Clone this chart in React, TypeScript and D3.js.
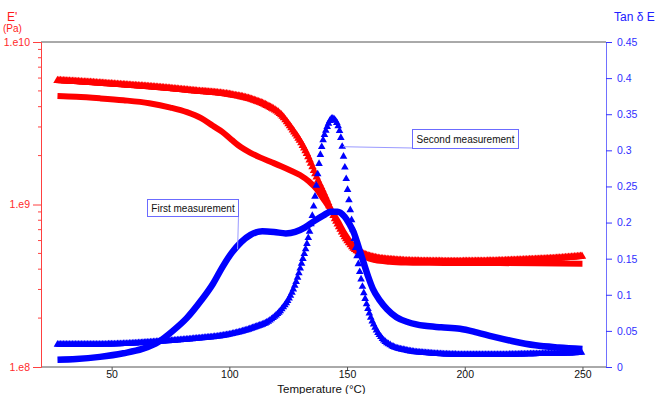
import { useEffect, useRef } from "react";
import * as d3 from "d3";

const W = 656, H = 394;
const FONT = "Liberation Sans, Arial, sans-serif";
const RED = "#ff0000";
const BLUE = "#0000ff";

// E' (Pa), first measurement (smooth band)
const e1T = [27, 35, 45, 55, 66, 75, 82, 88, 93, 97, 101, 105, 109, 113, 118, 122, 126, 130, 134, 137, 140, 143, 146, 149, 152, 155, 158, 162, 168, 175, 185, 200, 215, 230, 240, 250];
const e1V = [4.65e9, 4.6e9, 4.5e9, 4.38e9, 4.2e9, 3.95e9, 3.7e9, 3.4e9, 3.05e9, 2.8e9, 2.5e9, 2.25e9, 2.08e9, 1.95e9, 1.82e9, 1.72e9, 1.62e9, 1.52e9, 1.38e9, 1.25e9, 1.08e9, 9.3e8, 7.9e8, 6.6e8, 5.7e8, 5.1e8, 4.75e8, 4.55e8, 4.45e8, 4.4e8, 4.38e8, 4.36e8, 4.36e8, 4.35e8, 4.33e8, 4.32e8];

// E' (Pa), second measurement (triangles)
const e2T = [27, 40, 55, 70, 85, 100, 110, 116, 122, 127, 130, 133, 137, 141, 144, 147, 150, 153, 157, 162, 170, 180, 195, 210, 225, 240, 250];
const e2V = [5.85e9, 5.7e9, 5.5e9, 5.3e9, 5.05e9, 4.8e9, 4.45e9, 4.1e9, 3.6e9, 2.9e9, 2.5e9, 2.07e9, 1.5e9, 1.12e9, 8.8e8, 7.2e8, 6.1e8, 5.4e8, 5.0e8, 4.75e8, 4.6e8, 4.52e8, 4.5e8, 4.52e8, 4.6e8, 4.72e8, 4.85e8];

// tan delta, first measurement
const t1T = [27, 35, 45, 55, 63, 70, 76, 82, 88, 93, 97, 101, 105, 109, 114, 119, 124, 128, 132, 136, 140, 143, 146, 149, 151, 153, 155, 157, 159, 161, 164, 167, 171, 176, 183, 190, 198, 205, 212, 220, 230, 240, 250];
const t1V = [0.010, 0.011, 0.014, 0.019, 0.025, 0.035, 0.050, 0.068, 0.092, 0.115, 0.138, 0.158, 0.173, 0.183, 0.188, 0.187, 0.185, 0.187, 0.193, 0.202, 0.210, 0.215, 0.215, 0.208, 0.198, 0.185, 0.165, 0.145, 0.125, 0.108, 0.092, 0.080, 0.069, 0.062, 0.057, 0.055, 0.053, 0.048, 0.042, 0.036, 0.030, 0.027, 0.025];

// tan delta, second measurement (triangles)
const t2T = [27, 40, 55, 70, 85, 100, 110, 117, 122, 126, 129, 131, 133, 135, 136.5, 138, 139.5, 141.5, 143.7, 145.5, 147, 148.4, 150, 151.5, 153, 155, 157, 159.5, 162, 165, 169, 175, 185, 200, 215, 230, 245, 250];
const t2V = [0.032, 0.032, 0.033, 0.036, 0.040, 0.046, 0.055, 0.065, 0.080, 0.100, 0.125, 0.148, 0.172, 0.205, 0.240, 0.280, 0.310, 0.333, 0.345, 0.340, 0.325, 0.295, 0.252, 0.215, 0.180, 0.140, 0.105, 0.075, 0.055, 0.040, 0.030, 0.024, 0.020, 0.018, 0.018, 0.019, 0.020, 0.021];

const xTicks = [50, 100, 150, 200, 250];
const eTicks = [1e8, 1e9, 1e10];
const tanTicks = [0, 0.05, 0.1, 0.15, 0.2, 0.25, 0.3, 0.35, 0.4, 0.45];

export default function App() {
  const ref = useRef<SVGSVGElement>(null);

  useEffect(() => {
    if (!ref.current) return;
    const svg = d3.select(ref.current);
    svg.selectAll("*").remove();

    const L = 41, R = 606, T = 42, B = 367;
    const x = d3.scaleLinear().domain([20, 260]).range([L, R]);
    const yE = d3.scaleLog().domain([1e8, 1e10]).range([B, T]);
    const yT = d3.scaleLinear().domain([0, 0.45]).range([B, T]);

    const lineE = d3.line<[number, number]>().x(d => x(d[0])).y(d => yE(d[1])).curve(d3.curveMonotoneX);
    const lineT = d3.line<[number, number]>().x(d => x(d[0])).y(d => yT(d[1])).curve(d3.curveMonotoneX);
    const zip = (a: number[], b: number[]) => a.map((v, i) => [v, b[i]] as [number, number]);

    const plot = svg.append("g");

    const band = (d: string, color: string, w: number) =>
      plot.append("path").attr("d", d).attr("fill", "none").attr("stroke", color).attr("stroke-width", w);

    // triangles placed along the drawn curve, one per ~1.3px of x
    const triangles = (d: string, color: string, s: number) => {
      const p = plot.append("path").attr("d", d).attr("fill", "none").attr("stroke", "none");
      const node = p.node() as SVGPathElement;
      const len = node.getTotalLength();
      let lastX = -1e9;
      const sym = `M0,${-s} L${s},${s * 0.75} L${-s},${s * 0.75} Z`;
      for (let l = 0; l <= len; l += 0.5) {
        const pt = node.getPointAtLength(l);
        if (pt.x - lastX >= 1.3) {
          plot.append("path").attr("d", sym).attr("fill", color)
            .attr("transform", `translate(${pt.x},${pt.y})`);
          lastX = pt.x;
        }
      }
      p.remove();
    };

    band(lineE(zip(e1T, e1V))!, RED, 6);
    triangles(lineE(zip(e2T, e2V))!, RED, 4.2);
    band(lineT(zip(t1T, t1V))!, BLUE, 6.5);
    triangles(lineT(zip(t2T, t2V))!, BLUE, 3.8);

    // frame lines
    svg.append("line").attr("x1", L).attr("x2", R).attr("y1", T).attr("y2", T).attr("stroke", "#555");
    svg.append("line").attr("x1", L).attr("x2", R).attr("y1", B).attr("y2", B).attr("stroke", "#555");

    // left axis (log)
    const gl = svg.append("g").attr("transform", `translate(${L},0)`)
      .call(d3.axisLeft(yE).tickValues(eTicks).tickSize(8).tickPadding(3)
        .tickFormat(v => `1.e${Math.round(Math.log10(+v))}`));
    gl.select(".domain").attr("stroke", "#ff4040");
    gl.selectAll("line").attr("stroke", "#ff4040");
    gl.selectAll("text").attr("fill", "#ff2a2a").attr("font-size", 10.5).attr("font-family", FONT);
    [1e8, 1e9].forEach(dec => {
      for (let k = 2; k <= 9; k++) {
        gl.append("line").attr("x1", -3).attr("x2", 0)
          .attr("y1", yE(dec * k)).attr("y2", yE(dec * k)).attr("stroke", "#ff4040");
      }
    });

    // right axis
    const gr = svg.append("g").attr("transform", `translate(${R},0)`)
      .call(d3.axisRight(yT).tickValues(tanTicks).tickSize(6).tickPadding(5)
        .tickFormat(v => `${+v}`));
    gr.select(".domain").attr("stroke", "#7070ff");
    gr.selectAll("line").attr("stroke", "#3535ff");
    gr.selectAll("text").attr("fill", "#3030ff").attr("font-size", 10.5).attr("font-family", FONT);

    // bottom axis
    const gb = svg.append("g").attr("transform", `translate(0,${B})`)
      .call(d3.axisBottom(x).tickValues(xTicks).tickSize(4).tickPadding(0));
    gb.select(".domain").remove();
    gb.selectAll("line").attr("stroke", "#555");
    gb.selectAll("text").attr("fill", "#111").attr("font-size", 10.5).attr("font-family", FONT);

    // axis titles
    svg.append("text").attr("x", (L + R) / 2 - 2).attr("y", 392.5).attr("text-anchor", "middle")
      .attr("font-size", 11.5).attr("font-family", FONT).attr("fill", "#111").text("Temperature (°C)");
    svg.append("text").attr("x", 7).attr("y", 21).attr("font-size", 12).attr("font-family", FONT)
      .attr("fill", "#ff1a1a").text("E'");
    svg.append("text").attr("x", 3).attr("y", 32).attr("font-size", 10).attr("font-family", FONT)
      .attr("fill", "#ff1a1a").text("(Pa)");
    svg.append("text").attr("x", 614).attr("y", 21).attr("font-size", 12).attr("font-family", FONT)
      .attr("fill", "#2020ff").text("Tan δ E");

    // callouts
    const callout = (bx: number, by: number, bw: number, bh: number, label: string,
      fx: number, fy: number, tx: number, ty: number) => {
      svg.append("line").attr("x1", fx).attr("y1", fy).attr("x2", tx).attr("y2", ty)
        .attr("stroke", "#9a9aff").attr("stroke-width", 1);
      svg.append("rect").attr("x", bx + 0.5).attr("y", by + 0.5).attr("width", bw).attr("height", bh)
        .attr("fill", "white").attr("stroke", "#6b6bff");
      svg.append("text").attr("x", bx + bw / 2 + 0.5).attr("y", by + bh / 2 + 4)
        .attr("text-anchor", "middle").attr("font-size", 10).attr("font-family", FONT)
        .attr("fill", "#111").text(label);
    };
    callout(412, 129, 106, 19, "Second measurement", 412, 148, x(148.3), yT(0.305));
    callout(147, 199, 91, 17, "First measurement", 238.5, 216, x(103.5), yT(0.163));
  }, []);

  return (
    <svg ref={ref} width={W} height={H}
      style={{ position: "absolute", left: 0, top: 0, background: "white" }} />
  );
}
